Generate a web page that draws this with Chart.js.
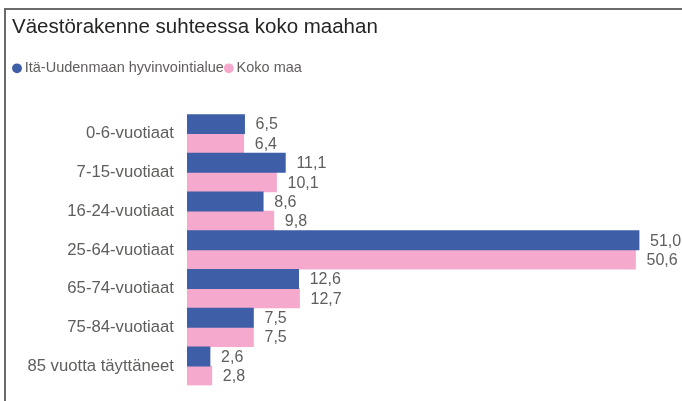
<!DOCTYPE html>
<html lang="fi">
<head>
    <meta charset="UTF-8">
    <title>Väestörakenne suhteessa koko maahan</title>
    <script src="https://cdn.jsdelivr.net/npm/chart.js"></script>
    <style>
        body {
            margin: 0;
            background: #fff;
            overflow: hidden;
        }

        #frame {
            position: absolute;
            left: 4px;
            top: 8px;
            width: 700px;
            height: 420px;
            border-left: 2px solid #6b6b6b;
            border-top: 2px solid #6b6b6b;
            pointer-events: none;
        }

        canvas {
            position: absolute;
            left: 0;
            top: 0;
        }
    </style>
</head>
<body>
    <canvas id="chart" width="682" height="401"></canvas>
    <div id="frame"></div>

    <script>
        // ikäryhmät
        const categories = [
            '0-6-vuotiaat',
            '7-15-vuotiaat',
            '16-24-vuotiaat',
            '25-64-vuotiaat',
            '65-74-vuotiaat',
            '75-84-vuotiaat',
            '85 vuotta täyttäneet'
        ];

        // osuus väestöstä (%)
        const itaUusimaa = [6.5, 11.1, 8.6, 51.0, 12.6, 7.5, 2.6];
        const kokoMaa = [6.4, 10.1, 9.8, 50.6, 12.7, 7.5, 2.8];

        const seriesNames = ['Itä-Uudenmaan hyvinvointialue', 'Koko maa'];

        const blue = '#3e5ea8';
        const pink = '#f4a9cd';
        const grey = '#605e5c';
        const font = "'Liberation Sans', Arial, sans-serif";

        // arvot palkkien perään, pilkulla
        const valueLabels = {
            id: 'valueLabels',
            afterDatasetsDraw(chart) {
                const ctx = chart.ctx;
                ctx.save();
                ctx.font = '16px ' + font;
                ctx.fillStyle = grey;
                ctx.textAlign = 'left';
                ctx.textBaseline = 'middle';
                chart.data.datasets.forEach((ds, i) => {
                    chart.getDatasetMeta(i).data.forEach((bar, j) => {
                        const txt = ds.data[j].toFixed(1).replace('.', ',');
                        ctx.fillText(txt, bar.x + 11, bar.y + 1);
                    });
                });
                ctx.restore();
            }
        };

        new Chart(document.getElementById('chart').getContext('2d'), {
            type: 'bar',
            data: {
                labels: categories,
                datasets: [
                    {
                        label: seriesNames[0],
                        data: itaUusimaa,
                        backgroundColor: blue,
                        borderColor: blue
                    },
                    {
                        label: seriesNames[1],
                        data: kokoMaa,
                        backgroundColor: pink,
                        borderColor: pink
                    }
                ]
            },
            options: {
                indexAxis: 'y',
                responsive: false,
                animation: false,
                categoryPercentage: 1,
                barPercentage: 1,
                layout: {
                    padding: { left: 12, right: 7.5, top: 0, bottom: 15.5 }
                },
                plugins: {
                    title: {
                        display: true,
                        text: 'Väestörakenne suhteessa koko maahan',
                        align: 'start',
                        color: '#252423',
                        font: { family: font, size: 20.5, weight: 'normal' },
                        padding: { top: 15.5, bottom: 16.5 }
                    },
                    legend: {
                        display: true,
                        position: 'top',
                        align: 'start',
                        labels: {
                            usePointStyle: true,
                            pointStyle: 'circle',
                            boxWidth: 1,
                            boxHeight: 7,
                            padding: 4.5,
                            color: grey,
                            font: { family: font, size: 14.5 }
                        }
                    },
                    tooltip: { enabled: false }
                },
                scales: {
                    x: {
                        position: 'top',
                        min: 0,
                        max: 55,
                        grid: { display: false, drawTicks: false },
                        border: { display: false },
                        ticks: { display: false },
                        afterFit(scale) {
                            scale.height = 28.75;
                        }
                    },
                    y: {
                        grid: { display: false, drawTicks: false },
                        border: { display: false },
                        ticks: {
                            color: grey,
                            padding: 13,
                            font: { family: font, size: 16.7 }
                        },
                        afterFit(scale) {
                            scale.width = 175;
                            scale.paddingTop = 0;
                            scale.paddingBottom = 0;
                        }
                    }
                }
            },
            plugins: [valueLabels]
        });
    </script>
</body>
</html>
